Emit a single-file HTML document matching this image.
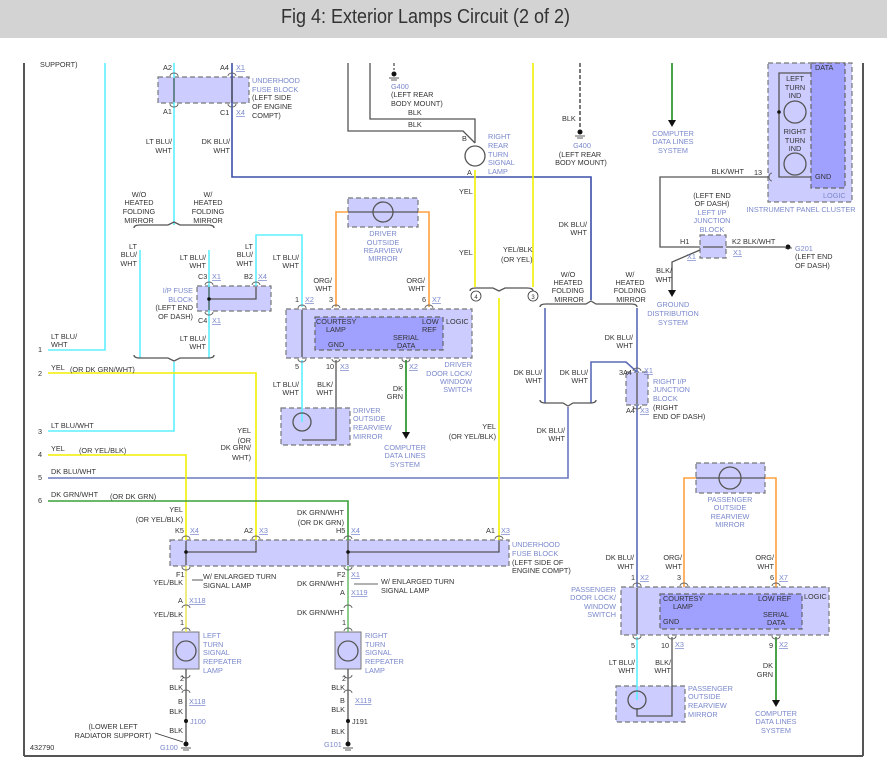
<!DOCTYPE html>
<html><head><meta charset="utf-8"><style>
html,body{margin:0;padding:0;background:#fff;}
#hd{position:absolute;left:0;top:0;width:887px;height:38px;background:#d3d3d3;}
#hd div{position:absolute;left:-18px;width:887px;top:6px;text-align:center;font-family:"Liberation Sans Narrow","Liberation Sans",sans-serif;font-size:20px;color:#333;transform:scaleX(0.9);}
svg{position:absolute;left:0;top:0;}
text{font-family:"Liberation Sans",sans-serif;font-size:7.3px;fill:#333;}
.b{fill:#7a88cc;}
.u{fill:#7a88cc;text-decoration:underline;}
.c{text-anchor:middle;}
.r{text-anchor:end;}
</style></head><body>
<div id="hd"><div>Fig 4: Exterior Lamps Circuit (2 of 2)</div></div>
<svg width="887" height="772" viewBox="0 0 887 772">
<g stroke="#555" stroke-width="2" fill="none">
<line x1="24" y1="63" x2="24" y2="756"/><line x1="863" y1="63" x2="863" y2="756"/><line x1="24" y1="756" x2="863" y2="756"/>
</g>
<g fill="#ccccff" stroke="#777" stroke-width="1.2" stroke-dasharray="5,3">
<rect x="158" y="77" width="91" height="26"/>
<rect x="197" y="286" width="74" height="25"/>
<rect x="286" y="309" width="186" height="49"/>
<rect x="348" y="198" width="70" height="29"/>
<rect x="281" y="408" width="69" height="37"/>
<rect x="170" y="540" width="339" height="26"/>
<rect x="768" y="63" width="84" height="139"/>
<rect x="700" y="235" width="26" height="23"/>
<rect x="626" y="372" width="22" height="33"/>
<rect x="696" y="463" width="69" height="30"/>
<rect x="621" y="587" width="208" height="48"/>
<rect x="616" y="686" width="69" height="36"/>
</g>
<g fill="#a0a0ff" stroke="#666" stroke-width="1.2" stroke-dasharray="5,3">
<rect x="315" y="317" width="128" height="33"/>
<rect x="811" y="63" width="34" height="125"/>
<rect x="660" y="594" width="142" height="35"/>
</g>
<g fill="#ccccff" stroke="#777" stroke-width="1">
<rect x="173" y="632" width="26" height="37"/>
<rect x="335" y="632" width="26" height="37"/>
</g>
<g fill="none" stroke-width="1.6">
<polyline stroke="#5ef0ff" points="105,63 105,350 48,350"/>
<polyline stroke="#5ef0ff" points="174,63 174,225"/>
<polyline stroke="#5ef0ff" points="140,250 140,358"/>
<polyline stroke="#5ef0ff" points="209,250 209,358"/>
<polyline stroke="#5ef0ff" points="174,362 174,431 48,431"/>
<polyline stroke="#5ef0ff" points="256,286 256,235 302,235 302,307"/>
<polyline stroke="#5ef0ff" points="302,360 302,422"/>
<polyline stroke="#5ef0ff" points="637,637 637,700"/>
<polyline stroke="#3b4fa8" points="232,63 232,177 591,177 591,300"/>
<polyline stroke="#5a6ab8" points="545,308 545,403"/>
<polyline stroke="#5a6ab8" points="637,308 637,372"/>
<polyline stroke="#5a6ab8" points="591,403 591,362 626,362 637,372"/>
<polyline stroke="#5a6ab8" points="637,405 637,587"/>
<polyline stroke="#6a78c0" points="48,478 568,478 568,407"/>
<polyline stroke="#f0f000" points="48,373 256,373 256,540"/>
<polyline stroke="#f0f000" points="48,455 186,455 186,540"/>
<polyline stroke="#f0f000" points="475,170 475,287"/>
<polyline stroke="#f0f000" points="533,63 533,287"/>
<polyline stroke="#f0f000" points="499,298 499,540"/>
<polyline stroke="#e8e860" points="186,566 186,632"/>
<polyline stroke="#3aa03a" points="48,501 348,501 348,540"/>
<polyline stroke="#70c070" points="348,566 348,632"/>
<polyline stroke="#1a8a1a" points="406,360 406,432"/>
<polyline stroke="#1a8a1a" points="672,63 672,120"/>
<polyline stroke="#1a8a1a" points="776,637 776,700"/>
<polyline stroke="#ffa040" points="336,307 336,212 348,212"/>
<polyline stroke="#ffa040" points="418,212 429,212 429,307"/>
<polyline stroke="#ffa040" points="684,587 684,478 696,478"/>
<polyline stroke="#ffa040" points="765,478 776,478 776,587"/>
</g>
<g fill="none" stroke="#555" stroke-width="1.3">
<polyline points="348,63 348,131 463,131 475,143"/>
<polyline points="370,63 370,119 475,119 475,143"/>
<polyline points="336,360 336,440 302,440"/>
<polyline points="672,637 672,716 637,716 637,708"/>
<polyline points="769,177 660,177 660,247 700,247"/>
<polyline points="700,250 672,262 672,290"/>
<polyline points="726,247 785,247"/>
<polyline points="186,669 186,745"/>
<polyline points="348,669 348,745"/>
<line x1="394" y1="63" x2="394" y2="70" stroke-dasharray="3,2"/>
<line x1="580" y1="63" x2="580" y2="128" stroke-dasharray="4,2" stroke="#333"/>
<line x1="174" y1="78" x2="174" y2="102"/><line x1="232" y1="78" x2="232" y2="102"/>
<polyline points="209,287 209,310"/><polyline points="209,299 256,299 256,287"/>
<line x1="302" y1="310" x2="302" y2="357"/>
<line x1="348" y1="212" x2="418" y2="212"/>
<line x1="696" y1="478" x2="765" y2="478"/>
<polyline points="186,541 186,565"/><polyline points="186,552 256,552 256,541"/>
<polyline points="348,541 348,565"/><polyline points="348,552 499,552 499,541"/>
<polyline points="811,73 779,73 779,177 811,177"/>
<line x1="637" y1="588" x2="637" y2="634"/>
<line x1="637" y1="373" x2="637" y2="404"/>
<line x1="703" y1="247" x2="723" y2="247"/>
<circle cx="383" cy="212" r="10"/><circle cx="730" cy="478" r="11"/>
<circle cx="475" cy="156" r="10"/>
<circle cx="795" cy="112" r="11" fill="#ccccff"/><circle cx="795" cy="164" r="11" fill="#ccccff"/>
<circle cx="302" cy="422" r="9"/><circle cx="637" cy="700" r="9"/>
<circle cx="186" cy="651" r="10"/><circle cx="348" cy="651" r="10"/>
<path d="M134,228 q0,-3 6,-3 h28 l6,-3 l6,3 h28 q6,0 6,3"/>
<path d="M134,355 q0,3 6,3 h28 l6,3 l6,-3 h28 q6,0 6,-3"/>
<path d="M470,291 q0,-3 6,-3 h17 l6,3 l6,-3 h22 q6,0 6,3"/>
<path d="M540,307 q0,-3 6,-3 h40 l5,-3 l5,3 h35 q6,0 6,3"/>
<path d="M540,400 q0,3 6,3 h17 l5,3 l5,-3 h17 q6,0 6,-3"/>
</g>
<g fill="none" stroke="#666" stroke-width="1">
<path d="M170,76 a4,3 0 0 1 8,0 M228,76 a4,3 0 0 1 8,0 M170,104 a4,3 0 0 0 8,0 M228,104 a4,3 0 0 0 8,0"/>
<path d="M205,285 a4,3 0 0 1 8,0 M252,285 a4,3 0 0 1 8,0 M205,312 a4,3 0 0 0 8,0"/>
<path d="M298,308 a4,3 0 0 1 8,0 M332,308 a4,3 0 0 1 8,0 M425,308 a4,3 0 0 1 8,0 M298,359 a4,3 0 0 0 8,0 M332,359 a4,3 0 0 0 8,0 M402,359 a4,3 0 0 0 8,0"/>
<path d="M182,539 a4,3 0 0 1 8,0 M252,539 a4,3 0 0 1 8,0 M344,539 a4,3 0 0 1 8,0 M495,539 a4,3 0 0 1 8,0 M182,567 a4,3 0 0 0 8,0 M344,567 a4,3 0 0 0 8,0"/>
<path d="M182,608 a4,3 0 0 1 8,0 M344,608 a4,3 0 0 1 8,0 M182,631 a4,3 0 0 1 8,0 M344,631 a4,3 0 0 1 8,0 M182,675 a4,3 0 0 0 8,0 M344,675 a4,3 0 0 0 8,0 M182,693 a4,3 0 0 1 8,0 M344,693 a4,3 0 0 1 8,0"/>
<path d="M633,586 a4,3 0 0 1 8,0 M680,586 a4,3 0 0 1 8,0 M772,586 a4,3 0 0 1 8,0 M633,636 a4,3 0 0 0 8,0 M668,636 a4,3 0 0 0 8,0 M772,636 a4,3 0 0 0 8,0"/>
<path d="M633,371 a4,3 0 0 1 8,0 M633,406 a4,3 0 0 0 8,0 M772,173 a3,4 0 0 0 0,8"/>
</g>
<circle cx="476" cy="296" r="5" fill="none" stroke="#333" stroke-width="0.8"/><text x="476" y="299" class="c" style="font-size:6px">4</text>
<circle cx="533" cy="296" r="5" fill="none" stroke="#333" stroke-width="0.8"/><text x="533" y="299" class="c" style="font-size:6px">3</text>
<g fill="#111">
<polygon points="402,432 410,432 406,439"/><polygon points="668,120 676,120 672,127"/>
<polygon points="668,290 676,290 672,297"/><polygon points="772,700 780,700 776,707"/>
<circle cx="209" cy="299" r="1.8"/><circle cx="186" cy="552" r="1.8"/><circle cx="348" cy="552" r="1.8"/>
<circle cx="779" cy="112" r="1.8"/><circle cx="186" cy="721" r="2"/><circle cx="348" cy="721" r="2"/>
<circle cx="394" cy="74" r="2.5"/><circle cx="580" cy="132" r="2.5"/><circle cx="788" cy="247" r="2.5"/>
<circle cx="186" cy="744" r="2.5"/><circle cx="348" cy="744" r="2.5"/>
</g>
<g stroke="#333" stroke-width="0.8">
<line x1="389" y1="78" x2="399" y2="78"/><line x1="391" y1="80" x2="397" y2="80"/>
<line x1="575" y1="136" x2="585" y2="136"/><line x1="577" y1="138" x2="583" y2="138"/>
<line x1="181" y1="748" x2="191" y2="748"/><line x1="183" y1="750" x2="189" y2="750"/>
<line x1="343" y1="748" x2="353" y2="748"/><line x1="345" y1="750" x2="351" y2="750"/>
<line x1="155" y1="733" x2="183" y2="742"/>
<line x1="792" y1="248" x2="785" y2="248"/>
<line x1="203" y1="580" x2="192" y2="580"/><line x1="378" y1="584" x2="354" y2="584"/>
</g>
<text x="40" y="67">SUPPORT)</text>
<text x="38" y="352">1</text><text x="51" y="339">LT BLU/</text><text x="51" y="347">WHT</text>
<text x="38" y="376">2</text><text x="51" y="370">YEL</text><text x="70" y="372">(OR DK GRN/WHT)</text>
<text x="38" y="434">3</text><text x="51" y="428">LT BLU/WHT</text>
<text x="38" y="457">4</text><text x="51" y="451">YEL</text><text x="79" y="453">(OR YEL/BLK)</text>
<text x="38" y="480">5</text><text x="51" y="474">DK BLU/WHT</text>
<text x="38" y="503">6</text><text x="51" y="497">DK GRN/WHT</text><text x="110" y="499">(OR DK GRN)</text>
<text x="163" y="70">A2</text><text x="220" y="70">A4</text><text x="236" y="70" class="u">X1</text>
<text x="163" y="114">A1</text><text x="220" y="115">C1</text><text x="236" y="115" class="u">X4</text>
<text x="252" y="83" class="b">UNDERHOOD</text><text x="252" y="92" class="b">FUSE BLOCK</text><text x="252" y="100">(LEFT SIDE</text><text x="252" y="109">OF ENGINE</text><text x="252" y="118">COMPT)</text>
<text x="172" y="144" class="r">LT BLU/</text><text x="172" y="153" class="r">WHT</text>
<text x="230" y="144" class="r">DK BLU/</text><text x="230" y="153" class="r">WHT</text>
<text x="139" y="197" class="c">W/O</text><text x="139" y="205" class="c">HEATED</text><text x="139" y="214" class="c">FOLDING</text><text x="139" y="223" class="c">MIRROR</text>
<text x="208" y="197" class="c">W/</text><text x="208" y="205" class="c">HEATED</text><text x="208" y="214" class="c">FOLDING</text><text x="208" y="223" class="c">MIRROR</text>
<text x="137" y="249" class="r">LT</text><text x="137" y="257" class="r">BLU/</text><text x="137" y="266" class="r">WHT</text>
<text x="206" y="260" class="r">LT BLU/</text><text x="206" y="268" class="r">WHT</text>
<text x="253" y="249" class="r">LT</text><text x="253" y="257" class="r">BLU/</text><text x="253" y="266" class="r">WHT</text>
<text x="299" y="260" class="r">LT BLU/</text><text x="299" y="268" class="r">WHT</text>
<text x="198" y="279">C3</text><text x="212" y="279" class="u">X1</text><text x="244" y="279">B2</text><text x="258" y="279" class="u">X4</text>
<text x="193" y="293" class="r b">I/P FUSE</text><text x="193" y="302" class="r b">BLOCK</text><text x="193" y="310" class="r">(LEFT END</text><text x="193" y="319" class="r">OF DASH)</text>
<text x="198" y="323">C4</text><text x="212" y="323" class="u">X1</text>
<text x="206" y="341" class="r">LT BLU/</text><text x="206" y="349" class="r">WHT</text>
<text x="383" y="236" class="c b">DRIVER</text><text x="383" y="245" class="c b">OUTSIDE</text><text x="383" y="253" class="c b">REARVIEW</text><text x="383" y="261" class="c b">MIRROR</text>
<text x="332" y="283" class="r">ORG/</text><text x="332" y="291" class="r">WHT</text>
<text x="425" y="283" class="r">ORG/</text><text x="425" y="291" class="r">WHT</text>
<text x="295" y="302">1</text><text x="305" y="302" class="u">X2</text><text x="329" y="302">3</text><text x="422" y="302">6</text><text x="432" y="302" class="u">X7</text>
<text x="316" y="324">COURTESY</text><text x="326" y="332">LAMP</text><text x="422" y="324">LOW</text><text x="422" y="332">REF</text>
<text x="393" y="340">SERIAL</text><text x="397" y="348">DATA</text><text x="328" y="347">GND</text><text x="446" y="324">LOGIC</text>
<text x="295" y="369">5</text><text x="326" y="369">10</text><text x="340" y="369" class="u">X3</text><text x="399" y="369">9</text><text x="409" y="369" class="u">X2</text>
<text x="472" y="367" class="r b">DRIVER</text><text x="472" y="376" class="r b">DOOR LOCK/</text><text x="472" y="384" class="r b">WINDOW</text><text x="472" y="392" class="r b">SWITCH</text>
<text x="299" y="387" class="r">LT BLU/</text><text x="299" y="395" class="r">WHT</text>
<text x="333" y="387" class="r">BLK/</text><text x="333" y="395" class="r">WHT</text>
<text x="403" y="391" class="r">DK</text><text x="403" y="399" class="r">GRN</text>
<text x="353" y="413" class="b">DRIVER</text><text x="353" y="421" class="b">OUTSIDE</text><text x="353" y="430" class="b">REARVIEW</text><text x="353" y="439" class="b">MIRROR</text>
<text x="405" y="450" class="c b">COMPUTER</text><text x="405" y="458" class="c b">DATA LINES</text><text x="405" y="467" class="c b">SYSTEM</text>
<text x="251" y="433" class="r">YEL</text><text x="251" y="443" class="r">(OR</text><text x="251" y="450" class="r">DK GRN/</text><text x="251" y="460" class="r">WHT)</text>
<text x="496" y="429" class="r">YEL</text><text x="496" y="439" class="r">(OR YEL/BLK)</text>
<text x="183" y="512" class="r">YEL</text><text x="183" y="522" class="r">(OR YEL/BLK)</text>
<text x="344" y="515" class="r">DK GRN/WHT</text><text x="344" y="525" class="r">(OR DK GRN)</text>
<text x="175" y="533">K5</text><text x="190" y="533" class="u">X4</text><text x="244" y="533">A2</text><text x="259" y="533" class="u">X3</text>
<text x="336" y="533">H5</text><text x="351" y="533" class="u">X4</text><text x="486" y="533">A1</text><text x="501" y="533" class="u">X3</text>
<text x="512" y="547" class="b">UNDERHOOD</text><text x="512" y="556" class="b">FUSE BLOCK</text><text x="512" y="565">(LEFT SIDE OF</text><text x="512" y="573">ENGINE COMPT)</text>
<text x="176" y="577">F1</text><text x="183" y="585" class="r">YEL/BLK</text>
<text x="203" y="579">W/ ENLARGED TURN</text><text x="203" y="588">SIGNAL LAMP</text>
<text x="178" y="603">A</text><text x="189" y="603" class="u">X118</text>
<text x="183" y="617" class="r">YEL/BLK</text><text x="180" y="625">1</text>
<text x="203" y="638" class="b">LEFT</text><text x="203" y="647" class="b">TURN</text><text x="203" y="655" class="b">SIGNAL</text><text x="203" y="664" class="b">REPEATER</text><text x="203" y="673" class="b">LAMP</text>
<text x="180" y="681">2</text><text x="183" y="690" class="r">BLK</text>
<text x="178" y="704">B</text><text x="189" y="704" class="u">X118</text><text x="183" y="714" class="r">BLK</text>
<text x="190" y="724" class="b">J100</text><text x="183" y="733" class="r">BLK</text>
<text x="113" y="729" class="c">(LOWER LEFT</text><text x="113" y="738" class="c">RADIATOR SUPPORT)</text>
<text x="160" y="750" class="b">G100</text><text x="30" y="750">432790</text>
<text x="337" y="577">F2</text><text x="351" y="577" class="u">X1</text><text x="344" y="586" class="r">DK GRN/WHT</text>
<text x="381" y="584">W/ ENLARGED TURN</text><text x="381" y="593">SIGNAL LAMP</text>
<text x="340" y="595">A</text><text x="351" y="595" class="u">X119</text>
<text x="344" y="615" class="r">DK GRN/WHT</text><text x="342" y="625">1</text>
<text x="365" y="638" class="b">RIGHT</text><text x="365" y="647" class="b">TURN</text><text x="365" y="655" class="b">SIGNAL</text><text x="365" y="664" class="b">REPEATER</text><text x="365" y="673" class="b">LAMP</text>
<text x="342" y="681">2</text><text x="345" y="690" class="r">BLK</text>
<text x="340" y="703">B</text><text x="355" y="703" class="u">X119</text><text x="345" y="712" class="r">BLK</text>
<text x="352" y="724">J191</text><text x="345" y="734" class="r">BLK</text><text x="324" y="747" class="b">G101</text>
<text x="391" y="89" class="b">G400</text><text x="391" y="97">(LEFT REAR</text><text x="391" y="106">BODY MOUNT)</text>
<text x="408" y="115">BLK</text><text x="408" y="127">BLK</text>
<text x="462" y="141">B</text><text x="467" y="175">A</text>
<text x="488" y="139" class="b">RIGHT</text><text x="488" y="148" class="b">REAR</text><text x="488" y="157" class="b">TURN</text><text x="488" y="165" class="b">SIGNAL</text><text x="488" y="174" class="b">LAMP</text>
<text x="459" y="194">YEL</text><text x="459" y="255">YEL</text>
<text x="503" y="252">YEL/BLK</text><text x="501" y="262">(OR YEL)</text>
<text x="562" y="121">BLK</text>
<text x="582" y="148" class="c b">G400</text><text x="580" y="157" class="c">(LEFT REAR</text><text x="581" y="165" class="c">BODY MOUNT)</text>
<text x="673" y="136" class="c b">COMPUTER</text><text x="673" y="144" class="c b">DATA LINES</text><text x="673" y="153" class="c b">SYSTEM</text>
<text x="587" y="227" class="r">DK BLU/</text><text x="587" y="235" class="r">WHT</text>
<text x="568" y="277" class="c">W/O</text><text x="568" y="285" class="c">HEATED</text><text x="568" y="293" class="c">FOLDING</text><text x="569" y="302" class="c">MIRROR</text>
<text x="630" y="277" class="c">W/</text><text x="630" y="285" class="c">HEATED</text><text x="630" y="293" class="c">FOLDING</text><text x="631" y="302" class="c">MIRROR</text>
<text x="633" y="340" class="r">DK BLU/</text><text x="633" y="348" class="r">WHT</text>
<text x="542" y="375" class="r">DK BLU/</text><text x="542" y="383" class="r">WHT</text>
<text x="588" y="375" class="r">DK BLU/</text><text x="588" y="383" class="r">WHT</text>
<text x="619" y="375">3A4</text><text x="644" y="373" class="u">X1</text>
<text x="653" y="384" class="b">RIGHT I/P</text><text x="653" y="392" class="b">JUNCTION</text><text x="653" y="401" class="b">BLOCK</text><text x="653" y="410">(RIGHT</text><text x="653" y="419">END OF DASH)</text>
<text x="626" y="413">A4</text><text x="640" y="413" class="u">X3</text>
<text x="565" y="433" class="r">DK BLU/</text><text x="565" y="441" class="r">WHT</text>
<text x="815" y="70">DATA</text>
<text x="795" y="81" class="c">LEFT</text><text x="795" y="90" class="c">TURN</text><text x="795" y="98" class="c">IND</text>
<text x="795" y="134" class="c">RIGHT</text><text x="795" y="143" class="c">TURN</text><text x="795" y="151" class="c">IND</text>
<text x="815" y="179">GND</text><text x="823" y="198" class="b">LOGIC</text>
<text x="801" y="212" class="c b">INSTRUMENT PANEL CLUSTER</text>
<text x="744" y="174" class="r">BLK/WHT</text><text x="754" y="175">13</text>
<text x="712" y="198" class="c">(LEFT END</text><text x="712" y="206" class="c">OF DASH)</text><text x="712" y="215" class="c b">LEFT I/P</text><text x="712" y="223" class="c b">JUNCTION</text><text x="712" y="232" class="c b">BLOCK</text>
<text x="680" y="244">H1</text><text x="732" y="244">K2 BLK/WHT</text>
<text x="687" y="259" class="u">X1</text><text x="733" y="255" class="u">X1</text>
<text x="795" y="251" class="b">G201</text><text x="795" y="259">(LEFT END</text><text x="795" y="268">OF DASH)</text>
<text x="672" y="273" class="r">BLK/</text><text x="672" y="282" class="r">WHT</text>
<text x="673" y="307" class="c b">GROUND</text><text x="673" y="316" class="c b">DISTRIBUTION</text><text x="673" y="325" class="c b">SYSTEM</text>
<text x="730" y="502" class="c b">PASSENGER</text><text x="730" y="510" class="c b">OUTSIDE</text><text x="730" y="519" class="c b">REARVIEW</text><text x="730" y="527" class="c b">MIRROR</text>
<text x="634" y="560" class="r">DK BLU/</text><text x="634" y="569" class="r">WHT</text>
<text x="682" y="560" class="r">ORG/</text><text x="682" y="569" class="r">WHT</text>
<text x="774" y="560" class="r">ORG/</text><text x="774" y="569" class="r">WHT</text>
<text x="631" y="580">1</text><text x="640" y="580" class="u">X2</text><text x="677" y="580">3</text><text x="770" y="580">6</text><text x="779" y="580" class="u">X7</text>
<text x="616" y="592" class="r b">PASSENGER</text><text x="616" y="600" class="r b">DOOR LOCK/</text><text x="616" y="609" class="r b">WINDOW</text><text x="616" y="617" class="r b">SWITCH</text>
<text x="663" y="601">COURTESY</text><text x="673" y="609">LAMP</text><text x="758" y="601">LOW REF</text>
<text x="763" y="617">SERIAL</text><text x="767" y="625">DATA</text><text x="663" y="624">GND</text><text x="804" y="599">LOGIC</text>
<text x="631" y="648">5</text><text x="661" y="648">10</text><text x="675" y="647" class="u">X3</text><text x="769" y="648">9</text><text x="779" y="647" class="u">X2</text>
<text x="635" y="665" class="r">LT BLU/</text><text x="635" y="673" class="r">WHT</text>
<text x="671" y="665" class="r">BLK/</text><text x="671" y="673" class="r">WHT</text>
<text x="773" y="668" class="r">DK</text><text x="773" y="677" class="r">GRN</text>
<text x="688" y="691" class="b">PASSENGER</text><text x="688" y="699" class="b">OUTSIDE</text><text x="688" y="708" class="b">REARVIEW</text><text x="688" y="717" class="b">MIRROR</text>
<text x="776" y="716" class="c b">COMPUTER</text><text x="776" y="724" class="c b">DATA LINES</text><text x="776" y="733" class="c b">SYSTEM</text>
</svg>
</body></html>
